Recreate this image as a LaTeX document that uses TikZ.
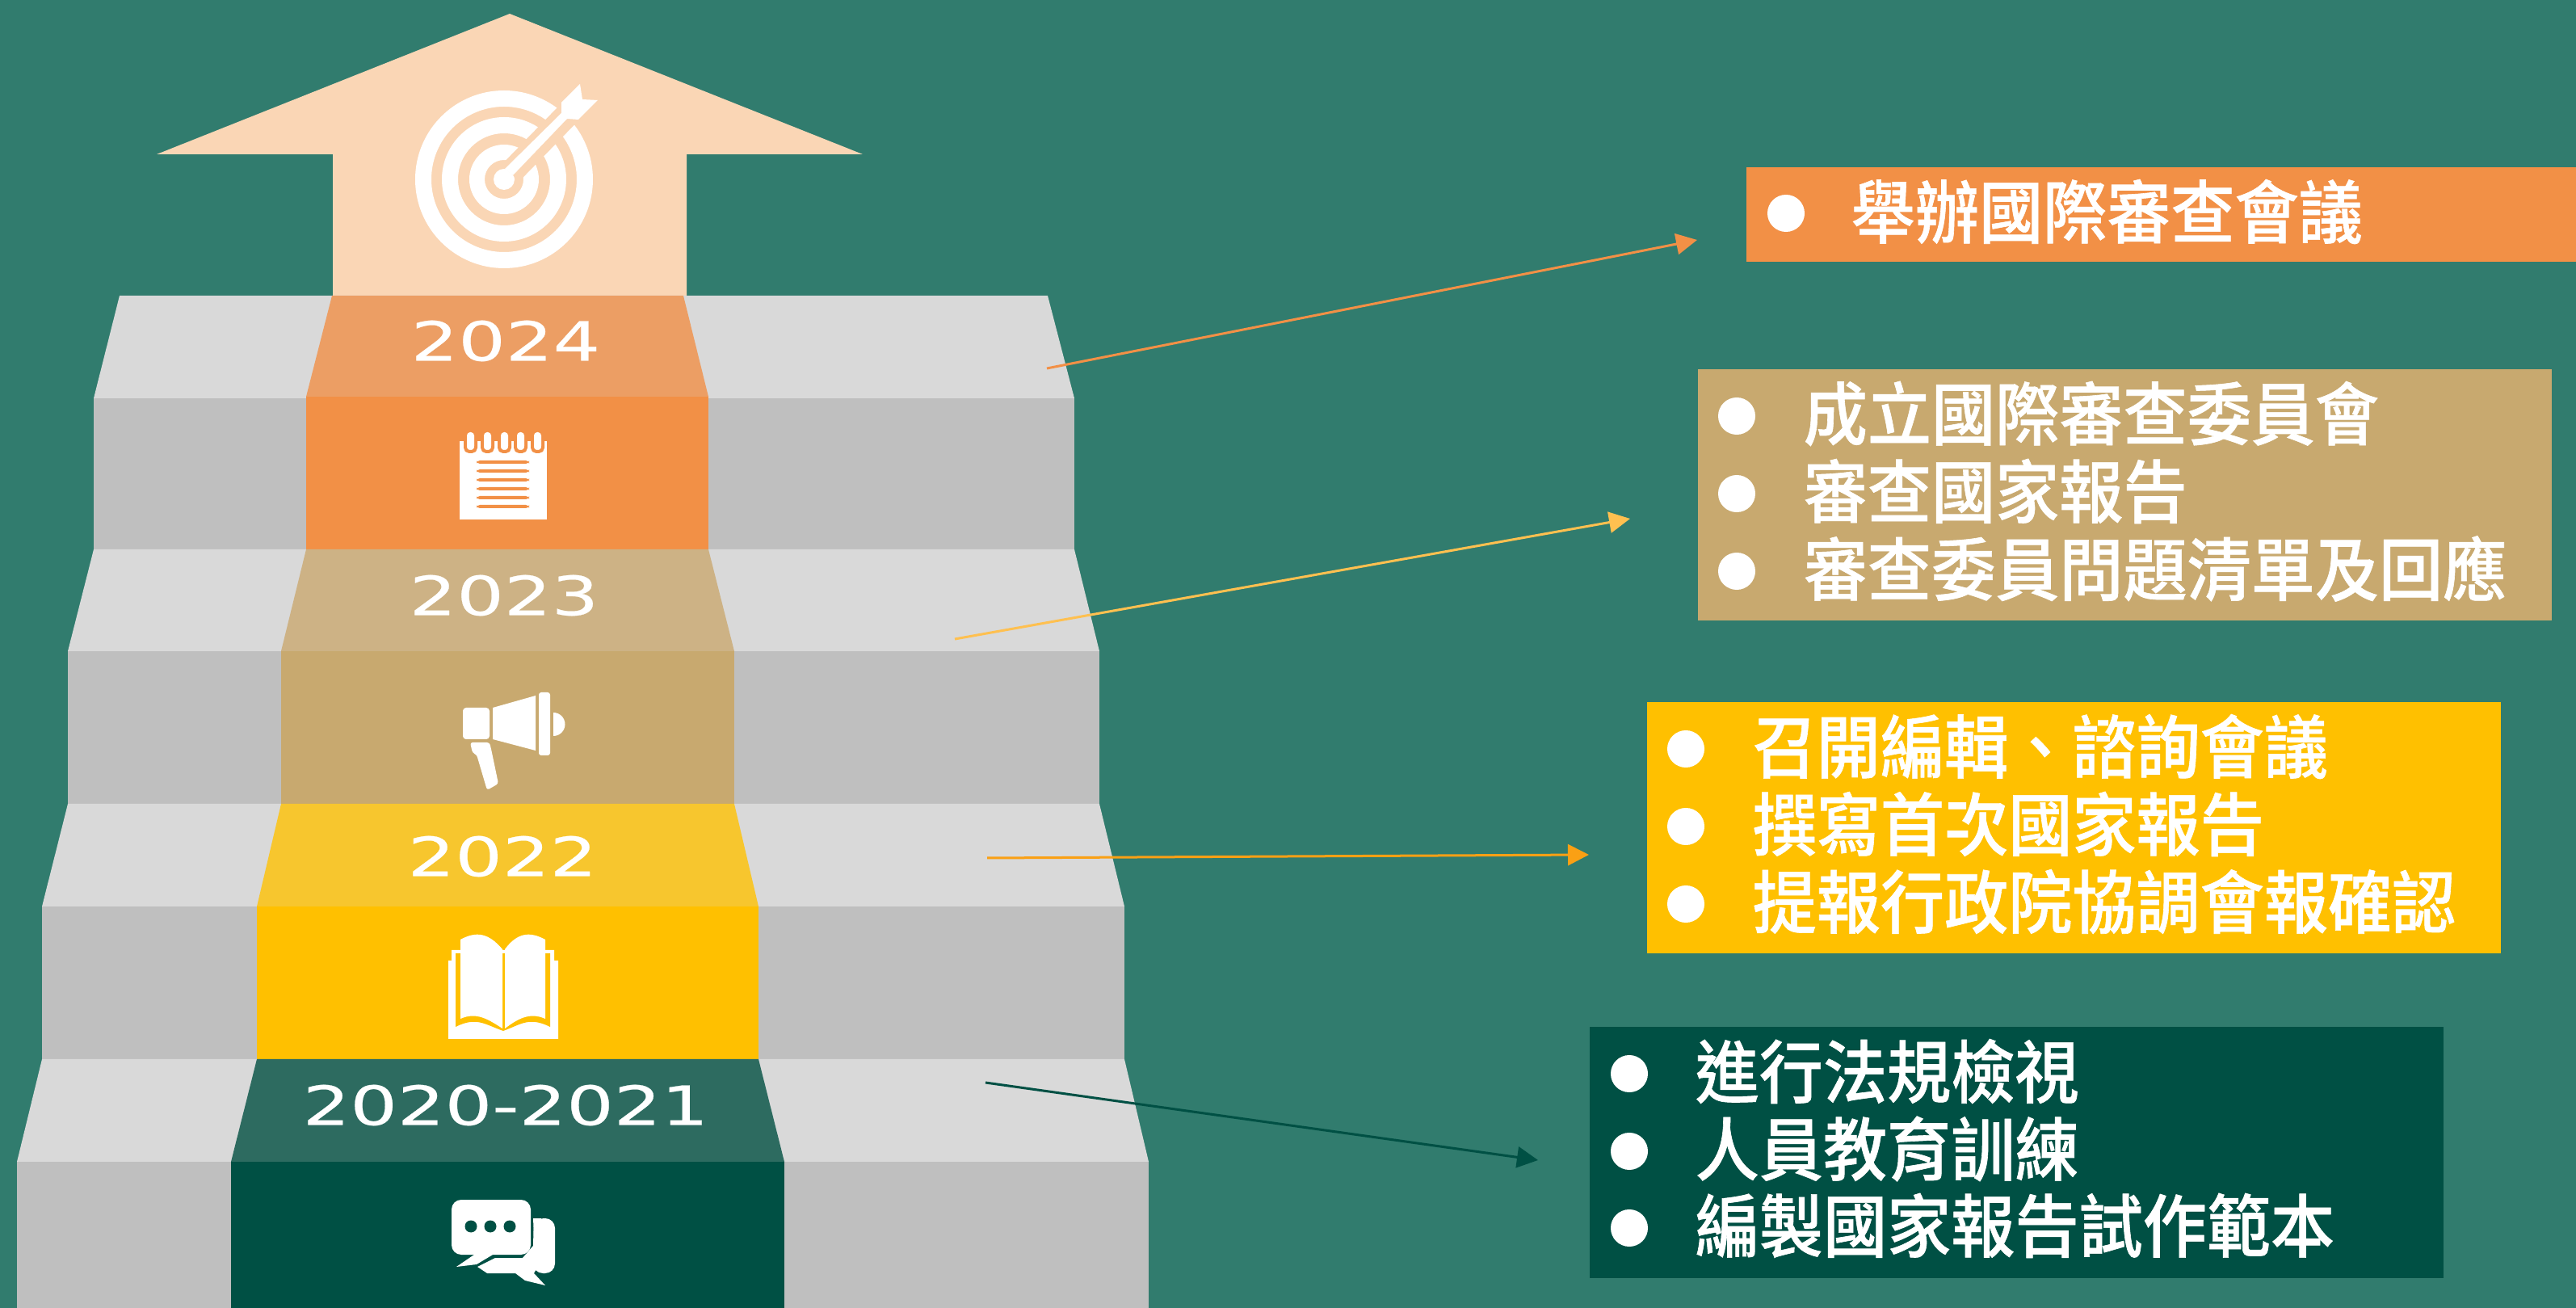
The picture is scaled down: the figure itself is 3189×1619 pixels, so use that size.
\documentclass[tikz,border=0pt]{standalone}
\usepackage{fontspec}
\newfontfamily\cjkfont[FakeStretch=0.93,FakeBold=0.7]{Noto Sans CJK TC Medium}
\newfontfamily\yearfont[FakeStretch=1.38,FakeBold=0.35]{DejaVu Sans}
\usetikzlibrary{arrows.meta}
\definecolor{bgteal}{HTML}{317C6E}
\definecolor{treadgray}{HTML}{D9D9D9}
\definecolor{risergray}{HTML}{BFBFBF}
\definecolor{orangemain}{HTML}{F29046}
\definecolor{orangetread}{HTML}{EC9E64}
\definecolor{orangepale}{HTML}{FAD6B5}
\definecolor{tanmain}{HTML}{C8A96F}
\definecolor{tantread}{HTML}{CDB285}
\definecolor{yellowmain}{HTML}{FFC000}
\definecolor{yellowtread}{HTML}{F7C62E}
\definecolor{greenmain}{HTML}{005044}
\definecolor{greentread}{HTML}{2D6B60}
\tikzset{
  tread/.style={fill=treadgray},
  riser/.style={fill=risergray},
  icon/.style={fill=white},
  infobox/.style={rectangle, anchor=north west, inner sep=0pt},
  itemdot/.style={circle, fill=white, minimum size=1.3pt, inner sep=0pt, minimum width=0.46cm},
  itemtext/.style={anchor=west, inner sep=0pt, text=white, font=\cjkfont\fontsize{24.2}{29}\selectfont},
  yeartext/.style={inner sep=0pt, text=white, font=\yearfont\fontsize{19}{23}\selectfont},
  link/.style={line width=0.03cm, -{Triangle[length=0.26cm, width=0.26cm]}}
}

\begin{document}
\begin{tikzpicture}[x=0.01cm, y=-0.01cm]
    \useasboundingbox (0,0) rectangle (3189,1619);
    \fill[bgteal] (0,0) rectangle (3189,1619);

    % Arrow on top of the stairs
    \fill[orangepale] (631,17) -- (1068,191) -- (850,191) -- (850,366) -- (412,366) -- (412,191) -- (194,191) -- cycle;

    % Grey stairs, top to bottom
    \fill[tread] (148,366) -- (1297,366) -- (1330,493) -- (116,493) -- cycle;
    \fill[riser] (116,493) rectangle (1330,680);
    \fill[tread] (116,680) -- (1330,680) -- (1361,806) -- (84,806) -- cycle;
    \fill[riser] (84,806) rectangle (1361,995);
    \fill[tread] (84,995) -- (1361,995) -- (1392,1122) -- (52,1122) -- cycle;
    \fill[riser] (52,1122) rectangle (1392,1311);
    \fill[tread] (52,1311) -- (1392,1311) -- (1422,1438) -- (21,1438) -- cycle;
    \fill[riser] (21,1438) rectangle (1422,1619);

    % Coloured carpet, top to bottom
    \fill[orangetread] (411,366) -- (846,366) -- (877,491) -- (379,491) -- cycle;
    \fill[orangemain] (379,491) rectangle (877,680);
    \fill[tantread] (379,680) -- (877,680) -- (909,806) -- (348,806) -- cycle;
    \fill[tanmain] (348,806) rectangle (909,995);
    \fill[yellowtread] (348,995) -- (909,995) -- (939,1122) -- (318,1122) -- cycle;
    \fill[yellowmain] (318,1122) rectangle (939,1311);
    \fill[greentread] (318,1311) -- (939,1311) -- (971,1438) -- (286,1438) -- cycle;
    \fill[greenmain] (286,1438) rectangle (971,1619);

    % Year labels
    \node[yeartext] (y2024) at (626,422) {2024};
    \node[yeartext] (y2023) at (624,737) {2023};
    \node[yeartext] (y2022) at (622,1060) {2022};
    \node[yeartext] (y2021) at (626,1368) {2020-2021};

    % Target icon
    \fill[icon, even odd rule] (624,222) circle (110) (624,222) circle (90)
        (624,222) circle (77) (624,222) circle (57)
        (624,222) circle (43) (624,222) circle (24)
        (624,222) circle (13);
    \draw[orangepale, line width=0.3cm] (632,214) -- (712,132);
    \fill[icon] (625,209) -- (695,140) -- (695,127) -- (718,104) -- (721,123) -- (740,124)
        -- (716,148) -- (702,147) -- (635,217) -- cycle;

    % Notepad icon
    \fill[icon] (569,546) rectangle (677,643);
    \fill[orangemain, rounded corners=0.04cm] (590,570) rectangle (655,574);
    \fill[orangemain, rounded corners=0.04cm] (590,581) rectangle (655,585);
    \fill[orangemain, rounded corners=0.04cm] (590,592) rectangle (655,596);
    \fill[orangemain, rounded corners=0.04cm] (590,603) rectangle (655,607);
    \fill[orangemain, rounded corners=0.04cm] (590,614) rectangle (655,618);
    \fill[orangemain, rounded corners=0.04cm] (590,625) rectangle (655,629);
    \draw[orangemain, line width=0.04cm, fill=white, rounded corners=0.05cm] (576,540) rectangle (589,559);
    \draw[orangemain, line width=0.04cm, fill=white, rounded corners=0.05cm] (597,540) rectangle (610,559);
    \draw[orangemain, line width=0.04cm, fill=white, rounded corners=0.05cm] (618,540) rectangle (631,559);
    \draw[orangemain, line width=0.04cm, fill=white, rounded corners=0.05cm] (638,540) rectangle (651,559);
    \draw[orangemain, line width=0.04cm, fill=white, rounded corners=0.05cm] (659,540) rectangle (672,559);
    \fill[orangemain] (569,535) rectangle (677,546);
    \fill[icon, rounded corners=0.04cm] (578,535) rectangle (587,556);
    \fill[icon, rounded corners=0.04cm] (599,535) rectangle (608,556);
    \fill[icon, rounded corners=0.04cm] (620,535) rectangle (629,556);
    \fill[icon, rounded corners=0.04cm] (640,535) rectangle (649,556);
    \fill[icon, rounded corners=0.04cm] (661,535) rectangle (670,556);

    % Megaphone icon
    \fill[icon, rounded corners=0.04cm] (573,876) rectangle (606,915);
    \fill[icon] (610,876) -- (663,861) -- (663,929) -- (610,915) -- cycle;
    \fill[icon, rounded corners=0.03cm] (667,857) rectangle (681,935);
    \fill[icon] (685,882) arc (-90:90:14.5);
    \fill[icon, rounded corners=0.03cm] (582,919) -- (606,919) -- (608,927) -- (617,970) -- (603,978)
        -- (590,934) -- (585,932) -- cycle;

    % Book icon
    \fill[icon] (555,1286) -- (555,1189) -- (559,1189) -- (559,1176) -- (686,1176) -- (686,1189)
        -- (691,1189) -- (691,1286) -- cycle;
    \fill[yellowmain] (564,1180) -- (681,1180) -- (681,1271) .. controls (655,1258) and (645,1268) .. (623,1276)
        .. controls (600,1268) and (590,1258) .. (564,1271) -- cycle;
    \fill[icon] (570,1163) .. controls (590,1152) and (605,1155) .. (622,1175) -- (622,1273)
        .. controls (605,1262) and (590,1252) .. (570,1261) -- cycle;
    \fill[icon] (675,1163) .. controls (655,1152) and (640,1155) .. (625,1175) -- (625,1273)
        .. controls (640,1262) and (655,1252) .. (675,1261) -- cycle;

    % Chat icon
    \fill[icon] (587,1553) -- (565,1568) -- (590,1565) -- (610,1553) -- cycle;
    \fill[icon, rounded corners=0.12cm] (559,1485) rectangle (657,1553);
    \fill[greenmain] (583,1518) circle (7.5);
    \fill[greenmain] (607,1518) circle (7.5);
    \fill[greenmain] (631,1518) circle (7.5);
    \fill[icon, rounded corners=0.12cm] (661,1508) -- (687,1508) -- (687,1576) -- (660,1576) -- (660,1540) -- cycle;
    \fill[icon] (660,1508) -- (670,1508) -- (670,1530) -- (661,1530) -- cycle;
    \fill[icon] (661,1576) -- (675,1591) -- (650,1585) -- (638,1576) -- (603,1576) -- (591,1568) -- (613,1557)
        -- (647,1557) -- (660,1542) -- (670,1560) -- cycle;

    % Text boxes
    \node[infobox, fill=orangemain, minimum width=10.28cm, minimum height=1.17cm] (box2024) at (2161,206) {};
    \node[infobox, fill=tanmain, minimum width=10.57cm, minimum height=3.11cm] (box2023) at (2101,456) {};
    \node[infobox, fill=yellowmain, minimum width=10.57cm, minimum height=3.11cm] (box2022) at (2038,868) {};
    \node[infobox, fill=greenmain, minimum width=10.57cm, minimum height=3.11cm] (box2021) at (1967,1270) {};

    % Items for 2024
    \node[itemdot] (d1) at (2211,264) {};
    \node[itemtext] (t1) at (2291,262) {舉辦國際審查會議};

    % Items for 2023
    \node[itemdot] (d2) at (2150,515) {};
    \node[itemtext] (t2) at (2232,512) {成立國際審查委員會};
    \node[itemdot] (d3) at (2150,611) {};
    \node[itemtext] (t3) at (2232,608) {審查國家報告};
    \node[itemdot] (d4) at (2150,707) {};
    \node[itemtext] (t4) at (2232,704) {審查委員問題清單及回應};

    % Items for 2022
    \node[itemdot] (d5) at (2087,927) {};
    \node[itemtext] (t5) at (2169,924) {召開編輯、諮詢會議};
    \node[itemdot] (d6) at (2087,1023) {};
    \node[itemtext] (t6) at (2169,1020) {撰寫首次國家報告};
    \node[itemdot] (d7) at (2087,1119) {};
    \node[itemtext] (t7) at (2169,1116) {提報行政院協調會報確認};

    % Items for 2020-2021
    \node[itemdot] (d8) at (2017,1329) {};
    \node[itemtext] (t8) at (2098,1326) {進行法規檢視};
    \node[itemdot] (d9) at (2017,1425) {};
    \node[itemtext] (t9) at (2098,1422) {人員教育訓練};
    \node[itemdot] (d10) at (2017,1520) {};
    \node[itemtext] (t10) at (2098,1517) {編製國家報告試作範本};

    % Arrows from the steps towards the boxes
    \coordinate (from2024) at (1296,456);
    \coordinate (to2024) at (2101,297);
    \coordinate (from2023) at (1182,791);
    \coordinate (to2023) at (2018,642);
    \coordinate (from2022) at (1222,1062);
    \coordinate (to2022) at (1967,1058);
    \coordinate (from2021) at (1220,1340);
    \coordinate (to2021) at (1904,1436);
    \draw[link, orangemain] (from2024) -- (to2024);
    \draw[link, color={rgb,255:red,255;green,192;blue,80}] (from2023) -- (to2023);
    \draw[link, color={rgb,255:red,250;green,160;blue,20}] (from2022) -- (to2022);
    \draw[link, greenmain] (from2021) -- (to2021);
\end{tikzpicture}
\end{document}
